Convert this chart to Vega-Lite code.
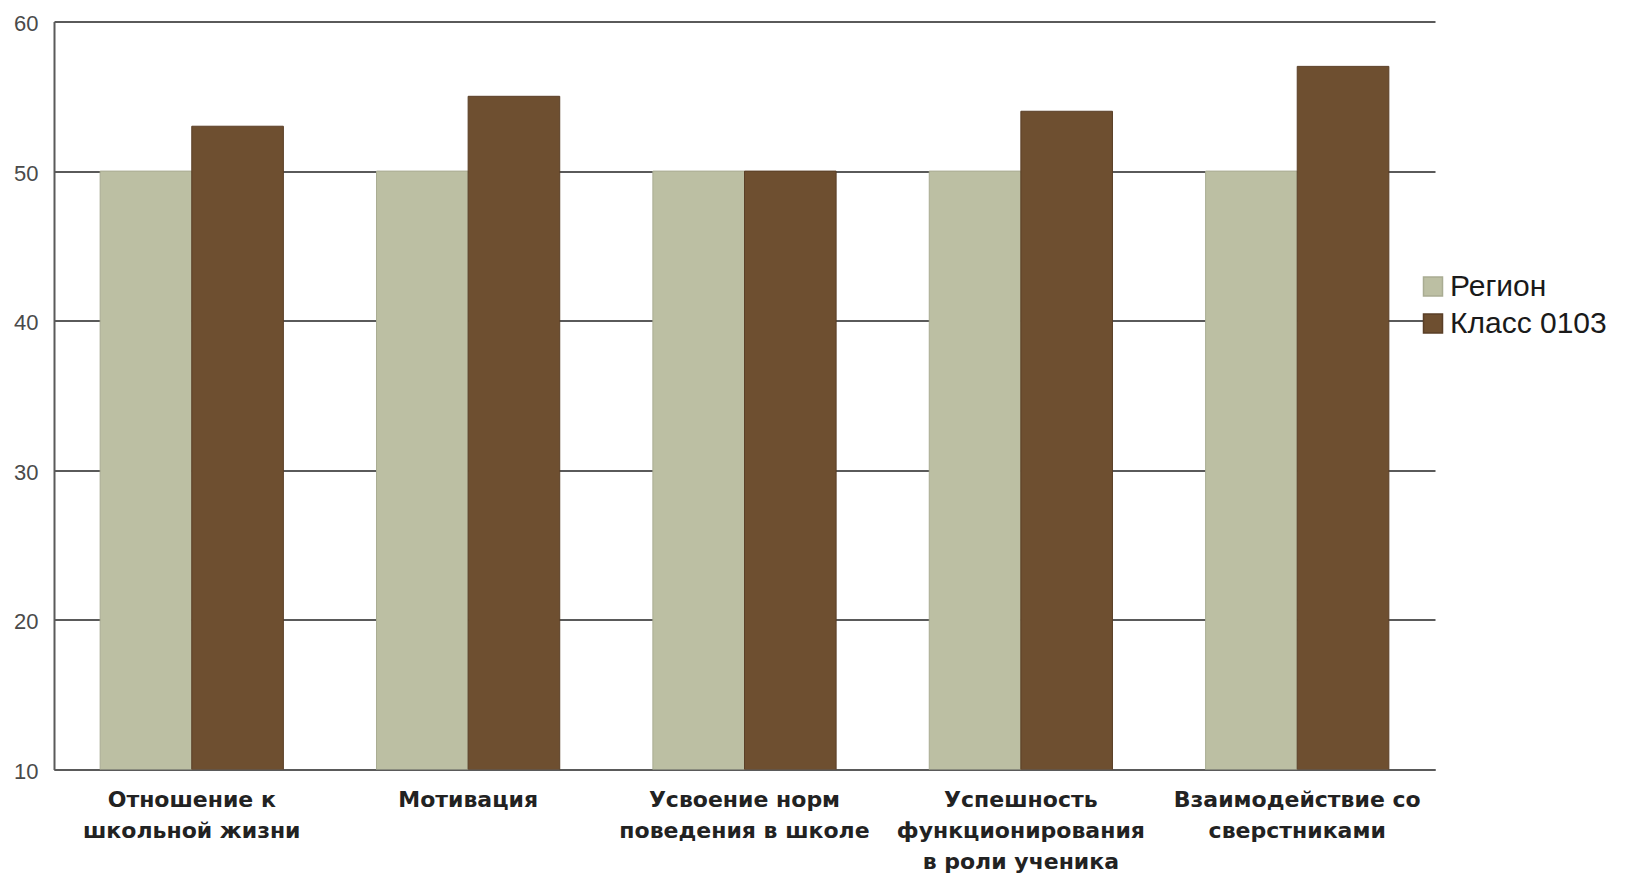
{
  "$schema": "https://vega.github.io/schema/vega-lite/v6.json",
  "width": 1381,
  "height": 748,
  "autosize": {"type": "none"},
  "padding": {"left": 54, "top": 21.5, "right": 194, "bottom": 106.5},
  "background": "white",
  "data": {
    "values": [
      {"category": "Отношение к\nшкольной жизни", "series": "Регион", "value": 50},
      {"category": "Отношение к\nшкольной жизни", "series": "Класс 0103", "value": 53},
      {"category": "Мотивация", "series": "Регион", "value": 50},
      {"category": "Мотивация", "series": "Класс 0103", "value": 55},
      {"category": "Усвоение норм\nповедения в школе", "series": "Регион", "value": 50},
      {"category": "Усвоение норм\nповедения в школе", "series": "Класс 0103", "value": 50},
      {"category": "Успешность\nфункционирования\nв роли ученика", "series": "Регион", "value": 50},
      {"category": "Успешность\nфункционирования\nв роли ученика", "series": "Класс 0103", "value": 54},
      {"category": "Взаимодействие со\nсверстниками", "series": "Регион", "value": 50},
      {"category": "Взаимодействие со\nсверстниками", "series": "Класс 0103", "value": 57}
    ]
  },
  "mark": {"type": "bar", "strokeWidth": 1, "clip": true},
  "encoding": {
    "x": {
      "field": "category",
      "type": "nominal",
      "sort": null,
      "scale": {"paddingInner": 0.337, "paddingOuter": 0.167},
      "axis": {
        "title": null,
        "labelAngle": 0,
        "labelExpr": "split(datum.label, '\\n')",
        "labelFont": "DejaVu Sans",
        "labelFontWeight": "bold",
        "labelFontSize": 22,
        "labelColor": "#222222",
        "labelLineHeight": 31,
        "labelPadding": 20,
        "labelBaseline": "top",
        "ticks": false,
        "domainColor": "#5a5a5a",
        "domainWidth": 2,
        "labelLimit": 400
      }
    },
    "xOffset": {"field": "series", "type": "nominal", "sort": ["Регион", "Класс 0103"]},
    "y": {
      "field": "value",
      "type": "quantitative",
      "scale": {"domain": [10, 60], "nice": false, "zero": false},
      "axis": {
        "title": null,
        "values": [10, 20, 30, 40, 50, 60],
        "labelFont": "Liberation Sans",
        "labelFontSize": 22,
        "labelColor": "#4a4a4a",
        "labelPadding": 16,
        "labelOffset": 2,
        "ticks": false,
        "domainColor": "#5a5a5a",
        "domainWidth": 2,
        "gridColor": "#5a5a5a",
        "gridWidth": 2,
        "gridOpacity": 1
      }
    },
    "color": {
      "field": "series",
      "type": "nominal",
      "sort": ["Регион", "Класс 0103"],
      "scale": {"domain": ["Регион", "Класс 0103"], "range": ["#bcbfa3", "#6e4f30"]},
      "legend": {
        "title": null,
        "orient": "none",
        "legendX": 1364,
        "legendY": 250,
        "symbolType": "square",
        "symbolSize": 361,
        "symbolStrokeWidth": 1.5,
        "labelFont": "Liberation Sans",
        "labelFontSize": 30,
        "labelColor": "#1a1a1a",
        "labelOffset": 2,
        "rowPadding": 7
      }
    },
    "stroke": {
      "field": "series",
      "type": "nominal",
      "scale": {"domain": ["Регион", "Класс 0103"], "range": ["#a9ac92", "#5a3f27"]},
      "legend": null
    }
  },
  "config": {"view": {"stroke": null}}
}
